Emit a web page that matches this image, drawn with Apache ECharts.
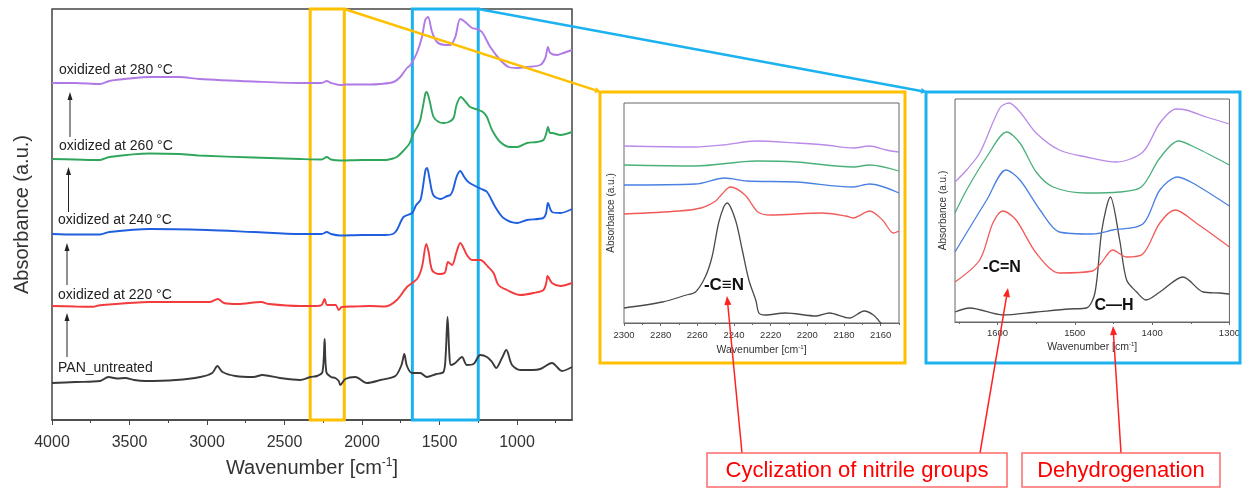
<!DOCTYPE html>
<html><head><meta charset="utf-8">
<script src="https://cdn.jsdelivr.net/npm/echarts@6/dist/echarts.min.js"></script>
<style>html,body{margin:0;padding:0;background:#fff}#c{width:1243px;height:491px}</style>
</head><body><div id="c"></div>
<script>
// ---------- data (wavenumber [cm-1], absorbance a.u.) ----------
const seriesNames = ['PAN_untreated', 'oxidized at 220 °C', 'oxidized at 240 °C', 'oxidized at 260 °C', 'oxidized at 280 °C'];

const mainPAN = [[4000,0.37],[3850,0.38],[3690,0.39],[3636,0.43],[3580,0.415],[3527,0.42],[3470,0.40],[3400,0.39],[3200,0.40],[3043,0.43],[2966,0.47],[2933,0.54],[2900,0.48],[2817,0.44],[2700,0.43],[2643,0.45],[2530,0.42],[2400,0.40],[2333,0.43],[2290,0.44],[2255,0.48],[2241,0.81],[2230,0.48],[2200,0.43],[2172,0.42],[2150,0.39],[2140,0.35],[2108,0.41],[2043,0.43],[1968,0.37],[1881,0.40],[1785,0.44],[1745,0.55],[1727,0.66],[1710,0.54],[1677,0.47],[1624,0.47],[1582,0.43],[1520,0.46],[1474,0.48],[1460,0.65],[1448,1.03],[1436,0.65],[1426,0.55],[1398,0.57],[1355,0.63],[1323,0.55],[1280,0.56],[1237,0.65],[1194,0.63],[1161,0.58],[1134,0.52],[1097,0.62],[1069,0.70],[1032,0.55],[979,0.50],[900,0.50],[850,0.51],[774,0.57],[710,0.49],[645,0.53]];
const main220 = [[4000,1.14],[3850,1.135],[3735,1.133],[3700,1.145],[3370,1.18],[3100,1.18],[2980,1.18],[2930,1.21],[2890,1.17],[2800,1.16],[2650,1.18],[2600,1.16],[2400,1.14],[2300,1.14],[2260,1.15],[2241,1.21],[2225,1.15],[2170,1.15],[2150,1.10],[2130,1.13],[2050,1.135],[1950,1.14],[1850,1.135],[1775,1.20],[1710,1.33],[1645,1.41],[1613,1.53],[1585,1.76],[1570,1.68],[1548,1.50],[1507,1.46],[1467,1.47],[1445,1.58],[1419,1.55],[1390,1.68],[1366,1.77],[1323,1.65],[1290,1.60],[1237,1.60],[1185,1.53],[1151,1.47],[1120,1.35],[1065,1.30],[979,1.25],[893,1.27],[829,1.30],[810,1.38],[803,1.44],[774,1.37],[720,1.34],[645,1.37]];
const main240 = [[4000,1.86],[3850,1.855],[3690,1.855],[3630,1.88],[3370,1.91],[3000,1.90],[2700,1.88],[2400,1.86],[2260,1.86],[2227,1.88],[2200,1.86],[2140,1.845],[2000,1.85],[1850,1.85],[1800,1.86],[1775,1.90],[1732,2.03],[1677,2.07],[1650,2.15],[1623,2.20],[1605,2.35],[1590,2.50],[1580,2.52],[1565,2.42],[1540,2.25],[1494,2.21],[1450,2.24],[1430,2.25],[1413,2.30],[1390,2.43],[1366,2.49],[1340,2.43],[1314,2.38],[1258,2.33],[1230,2.31],[1193,2.28],[1140,2.13],[1087,2.02],[1000,1.97],[935,2.00],[830,2.02],[812,2.07],[800,2.17],[774,2.08],[720,2.07],[645,2.11]];
const main260 = [[4000,2.61],[3850,2.605],[3690,2.60],[3630,2.63],[3370,2.665],[3180,2.66],[3050,2.645],[2700,2.625],[2400,2.61],[2260,2.605],[2227,2.63],[2200,2.605],[2140,2.595],[2000,2.60],[1850,2.60],[1800,2.615],[1775,2.63],[1740,2.68],[1700,2.75],[1689,2.78],[1667,2.87],[1640,2.94],[1624,3.00],[1605,3.15],[1590,3.27],[1582,3.28],[1565,3.20],[1538,3.03],[1505,2.98],[1474,2.97],[1440,2.98],[1409,3.02],[1390,3.15],[1362,3.23],[1330,3.18],[1302,3.13],[1248,3.10],[1220,3.08],[1194,3.03],[1161,2.90],[1108,2.78],[1043,2.73],[1000,2.73],[935,2.77],[871,2.78],[829,2.80],[812,2.86],[800,2.93],[786,2.87],[774,2.87],[720,2.85],[645,2.88]];
const main280 = [[4000,3.37],[3850,3.37],[3690,3.36],[3630,3.39],[3500,3.415],[3370,3.43],[3180,3.43],[3050,3.41],[2700,3.385],[2400,3.37],[2260,3.37],[2227,3.39],[2200,3.37],[2140,3.35],[2100,3.355],[1950,3.355],[1882,3.36],[1796,3.38],[1753,3.43],[1710,3.52],[1687,3.55],[1646,3.67],[1613,3.83],[1592,4.00],[1574,4.03],[1548,3.88],[1516,3.78],[1463,3.75],[1430,3.75],[1398,3.83],[1366,4.01],[1334,3.98],[1290,3.92],[1258,3.91],[1226,3.88],[1172,3.73],[1108,3.60],[1054,3.53],[1000,3.52],[935,3.53],[850,3.55],[817,3.62],[800,3.73],[785,3.67],[742,3.65],[700,3.67],[645,3.70]];

// nitrile inset (2300-2150)
const cnPAN = [[2300,0.15],[2279,0.21],[2266,0.28],[2261,0.31],[2255.7,0.46],[2252,0.66],[2248.4,1.00],[2245.6,1.16],[2243.8,1.20],[2239.2,1.03],[2235.5,0.73],[2231.9,0.43],[2228,0.22],[2226.4,0.10],[2223,0.08],[2212,0.10],[2195,0.07],[2188,0.10],[2177,0.05],[2169,0.12],[2164,0.08],[2160,0.00],[2155,-0.12]];
const cn220 = [[2300,1.09],[2270,1.12],[2258,1.15],[2250,1.22],[2247,1.28],[2242,1.36],[2234,1.28],[2227,1.11],[2220,1.08],[2192,1.10],[2179,1.07],[2175,1.05],[2166,1.12],[2159,1.03],[2153,0.90],[2150,0.92]];
const cn240 = [[2300,1.38],[2261,1.39],[2245,1.45],[2233,1.42],[2206,1.41],[2175,1.36],[2166,1.39],[2150,1.30]];
const cn260 = [[2300,1.58],[2261,1.57],[2228,1.62],[2206,1.61],[2175,1.56],[2166,1.58],[2150,1.52]];
const cn280 = [[2300,1.77],[2261,1.76],[2246,1.78],[2228,1.82],[2206,1.80],[2190,1.78],[2175,1.75],[2166,1.77],[2157,1.73],[2150,1.71]];

// C=N / C-H inset (1655-1300)
const ccPAN = [[1655,0.10],[1636,0.14],[1593,0.07],[1550,0.10],[1507,0.13],[1485,0.14],[1474,0.29],[1465,0.92],[1454,1.25],[1442,0.82],[1433,0.42],[1420,0.30],[1408,0.22],[1390,0.30],[1360,0.45],[1334,0.30],[1312,0.29],[1300,0.28]];
const cc220 = [[1655,0.40],[1623,0.62],[1606,0.99],[1593,1.11],[1576,1.02],[1550,0.69],[1520,0.49],[1477,0.51],[1466,0.59],[1451,0.72],[1433,0.65],[1412,0.68],[1390,0.99],[1370,1.12],[1343,0.99],[1300,0.75]];
const cc240 = [[1655,0.70],[1614,1.22],[1589,1.52],[1571,1.42],[1545,1.12],[1520,0.90],[1477,0.88],[1451,0.92],[1412,0.98],[1390,1.32],[1367,1.45],[1343,1.37],[1300,1.16]];
const cc260 = [[1655,1.09],[1640,1.32],[1614,1.65],[1588,1.90],[1571,1.79],[1550,1.50],[1528,1.35],[1485,1.29],[1442,1.30],[1414,1.35],[1390,1.64],[1366,1.81],[1343,1.74],[1300,1.57]];
const cc280 = [[1655,1.40],[1640,1.52],[1623,1.69],[1597,2.14],[1585,2.19],[1571,2.10],[1550,1.89],[1520,1.72],[1485,1.65],[1446,1.60],[1412,1.70],[1390,1.99],[1369,2.13],[1356,2.12],[1330,2.05],[1300,1.98]];

// ticks
const mainTicks = [4000, 3500, 3000, 2500, 2000, 1500, 1000];
const mainMinor = [3750, 3250, 2750, 2250, 1750, 1250, 750];
const cnTicks = [2300, 2280, 2260, 2240, 2220, 2200, 2180, 2160];
const cnMinor = [2290, 2270, 2250, 2230, 2210, 2190, 2170, 2150];
const ccTicks = [1600, 1500, 1400, 1300];
const ccMinor = [1650, 1550, 1450, 1350];

// highlighted regions on main plot
const nitrileRange = [2334, 2114];
const cnRange = [1675, 1250];

// ---------- chart ----------
const FONT = '"Liberation Sans", Arial, sans-serif';
const mainColors = ['#3a3a3a', '#f23b3d', '#1f5fde', '#2fa65c', '#b07ae6'];
const insetColors = ['#4a4a4a', '#f25a5a', '#4a80e2', '#4cb07c', '#b98ae8'];
const ORANGE = '#ffc000', CYAN = '#1cb2f0', RED = '#ff2020';

const chart = echarts.init(document.getElementById('c'), null, {renderer: 'canvas'});

function xAx(grid, min, max, ticks, fs, margin, name, nameGap, nameFs, tickLen) {
  return {
    type: 'value', gridIndex: grid, min: min, max: max, inverse: true, position: 'bottom',
    axisLine: {show: true, onZero: false, lineStyle: {color: grid === 0 ? '#444' : '#666', width: grid === 0 ? 1.5 : 1}},
    axisTick: {show: true, customValues: ticks, length: tickLen, lineStyle: {color: grid === 0 ? '#444' : '#666'}},
    axisLabel: {show: true, customValues: ticks, fontSize: fs, color: '#333', fontFamily: FONT, margin: margin,
      formatter: v => String(v)},
    splitLine: {show: false},
    name: name, nameLocation: 'middle', nameGap: nameGap,
    nameTextStyle: {fontFamily: FONT, color: '#333', rich: {
      a: {fontSize: nameFs, fontFamily: FONT, color: '#333'},
      s: {fontSize: Math.round(nameFs * 0.6), fontFamily: FONT, color: '#333', padding: [0, 0, Math.round(nameFs * 0.55), 0]}
    }}
  };
}
function minorAx(grid, min, max, ticks, len) {
  return {
    type: 'value', gridIndex: grid, min: min, max: max, inverse: true, position: 'bottom',
    axisLine: {show: false, onZero: false},
    axisTick: {show: true, customValues: ticks, length: len, lineStyle: {color: grid === 0 ? '#444' : '#666'}},
    axisLabel: {show: false}, splitLine: {show: false}
  };
}
function yAx(grid, max, name, gap, fs) {
  return {
    type: 'value', gridIndex: grid, min: 0, max: max,
    axisLine: {show: false}, axisTick: {show: false}, axisLabel: {show: false}, splitLine: {show: false},
    name: name, nameLocation: 'middle', nameGap: gap,
    nameTextStyle: {fontSize: fs, fontFamily: FONT, color: '#333'}
  };
}
const wnName = '{a|Wavenumber [cm}{s|-1}{a|]}';

const mainSets = [mainPAN, main220, main240, main260, main280];
const cnSets = [cnPAN, cn220, cn240, cn260, cn280];
const ccSets = [ccPAN, cc220, cc240, cc260, cc280];

const series = [];
mainSets.forEach((d, i) => {
  const s = {
    type: 'line', name: seriesNames[i], xAxisIndex: 0, yAxisIndex: 0, data: d,
    showSymbol: false, smooth: 0.3, lineStyle: {color: mainColors[i], width: 1.9}, z: 3
  };
  if (i === 0) {
    s.markArea = {silent: true, data: [
      [{xAxis: nitrileRange[0], yAxis: 0, itemStyle: {color: 'rgba(0,0,0,0)', borderColor: ORANGE, borderWidth: 3}},
       {xAxis: nitrileRange[1], yAxis: 4.11}],
      [{xAxis: cnRange[0], yAxis: 0, itemStyle: {color: 'rgba(0,0,0,0)', borderColor: CYAN, borderWidth: 3}},
       {xAxis: cnRange[1], yAxis: 4.11}]
    ]};
  }
  series.push(s);
});
cnSets.forEach((d, i) => series.push({
  type: 'line', name: seriesNames[i], xAxisIndex: 2, yAxisIndex: 1, data: d,
  showSymbol: false, smooth: 0.3, clip: true, lineStyle: {color: insetColors[i], width: 1.3}
}));
ccSets.forEach((d, i) => series.push({
  type: 'line', name: seriesNames[i], xAxisIndex: 4, yAxisIndex: 2, data: d,
  showSymbol: false, smooth: 0.3, clip: true, lineStyle: {color: insetColors[i], width: 1.3}
}));

const option = {
  animation: false,
  backgroundColor: '#fff',
  grid: [
    {left: 52, top: 9, width: 520, height: 411, show: true, borderColor: '#444', borderWidth: 1.5, backgroundColor: 'transparent'},
    {left: 624, top: 103, width: 275, height: 220, show: true, borderColor: '#666', borderWidth: 1},
    {left: 955, top: 99, width: 275, height: 223, show: true, borderColor: '#666', borderWidth: 1}
  ],
  xAxis: [
    xAx(0, 645, 4000, mainTicks, 16, 15, wnName, 37, 20, 5),
    minorAx(0, 645, 4000, mainMinor, 3),
    xAx(1, 2150, 2300, cnTicks, 9.5, 7, wnName, 21, 10.5, 3),
    minorAx(1, 2150, 2300, cnMinor, 2),
    xAx(2, 1300, 1655, ccTicks, 9.5, 6, wnName, 19, 10.5, 3),
    minorAx(2, 1300, 1655, ccMinor, 2)
  ],
  yAxis: [
    yAx(0, 4.11, 'Absorbance (a.u.)', 20, 20),
    yAx(1, 2.20, 'Absorbance (a.u.)', 8, 10),
    yAx(2, 2.23, 'Absorbance (a.u.)', 7, 10)
  ],
  series: series
};
chart.setOption(option);

// ---------- annotations ----------
function arrow(x1, y1, x2, y2, color, w, hl, hw, z) {
  const dx = x2 - x1, dy = y2 - y1, L = Math.hypot(dx, dy), ux = dx / L, uy = dy / L;
  const bx = x2 - ux * hl, by = y2 - uy * hl;
  return [
    {type: 'line', z: z, shape: {x1: x1, y1: y1, x2: bx, y2: by}, style: {stroke: color, lineWidth: w}},
    {type: 'polygon', z: z, shape: {points: [[x2, y2], [bx - uy * hw, by + ux * hw], [bx + uy * hw, by - ux * hw]]}, style: {fill: color}}
  ];
}
function label(text, x, y) {
  return {type: 'text', z: 20, style: {text: text, x: x, y: y, fontSize: 14, fontFamily: FONT, fill: '#222', verticalAlign: 'middle', align: 'left'}};
}
function bold(text, x, y, fs) {
  return {type: 'text', z: 20, style: {text: text, x: x, y: y, fontSize: fs, fontWeight: 'bold', fontFamily: FONT, fill: '#111', verticalAlign: 'middle', align: 'center'}};
}

const pOr = chart.convertToPixel({xAxisIndex: 0, yAxisIndex: 0}, [nitrileRange[1], 4.11]);
const pCy = chart.convertToPixel({xAxisIndex: 0, yAxisIndex: 0}, [cnRange[1], 4.11]);

let g = [];
// inset frames
g.push({type: 'rect', z: 1, shape: {x: 600, y: 92, width: 305, height: 271}, style: {fill: 'none', stroke: ORANGE, lineWidth: 3}});
g.push({type: 'rect', z: 1, shape: {x: 926, y: 92, width: 314, height: 271}, style: {fill: 'none', stroke: CYAN, lineWidth: 3}});
// connectors
g = g.concat(arrow(pOr[0], pOr[1], 601, 92, ORANGE, 2.5, 6, 3, 15));
g = g.concat(arrow(pCy[0], pCy[1], 927, 92, CYAN, 2.5, 6, 3, 15));
// curve labels and arrows
g.push(label('oxidized at 280 °C', 59, 70));
g.push(label('oxidized at 260 °C', 59, 146));
g.push(label('oxidized at 240 °C', 58, 220));
g.push(label('oxidized at 220 °C', 58, 295));
g.push(label('PAN_untreated', 58, 368));
g = g.concat(arrow(70, 137, 70, 92, '#222', 1, 8, 2.5, 20));
g = g.concat(arrow(68.5, 212, 68.5, 167, '#222', 1, 8, 2.5, 20));
g = g.concat(arrow(67, 285, 67, 243, '#222', 1, 8, 2.5, 20));
g = g.concat(arrow(67, 357, 67, 313, '#222', 1, 8, 2.5, 20));
// inset labels
g.push(bold('-C≡N', 724, 285, 17));
g.push(bold('-C=N', 1002, 268, 16));
g.push(bold('C—H', 1114, 306, 16));
// red annotation arrows
g = g.concat(arrow(742, 453, 727, 296, RED, 1.5, 9, 3.5, 20));
g = g.concat(arrow(980, 453, 1008, 288, RED, 1.5, 9, 3.5, 20));
g = g.concat(arrow(1121, 453, 1113, 326, RED, 1.5, 9, 3.5, 20));
// red boxes
g.push({type: 'rect', z: 20, shape: {x: 707, y: 453, width: 300, height: 34}, style: {fill: '#fff', stroke: '#ff6b6b', lineWidth: 1.5}});
g.push({type: 'text', z: 21, style: {text: 'Cyclization of nitrile groups', x: 857, y: 471, fontSize: 22, fontFamily: FONT, fill: '#ff0000', align: 'center', verticalAlign: 'middle'}});
g.push({type: 'rect', z: 20, shape: {x: 1022, y: 453, width: 198, height: 34}, style: {fill: '#fff', stroke: '#ff6b6b', lineWidth: 1.5}});
g.push({type: 'text', z: 21, style: {text: 'Dehydrogenation', x: 1121, y: 471, fontSize: 22, fontFamily: FONT, fill: '#ff0000', align: 'center', verticalAlign: 'middle'}});

chart.setOption({graphic: {elements: g}});
</script>
</body></html>
